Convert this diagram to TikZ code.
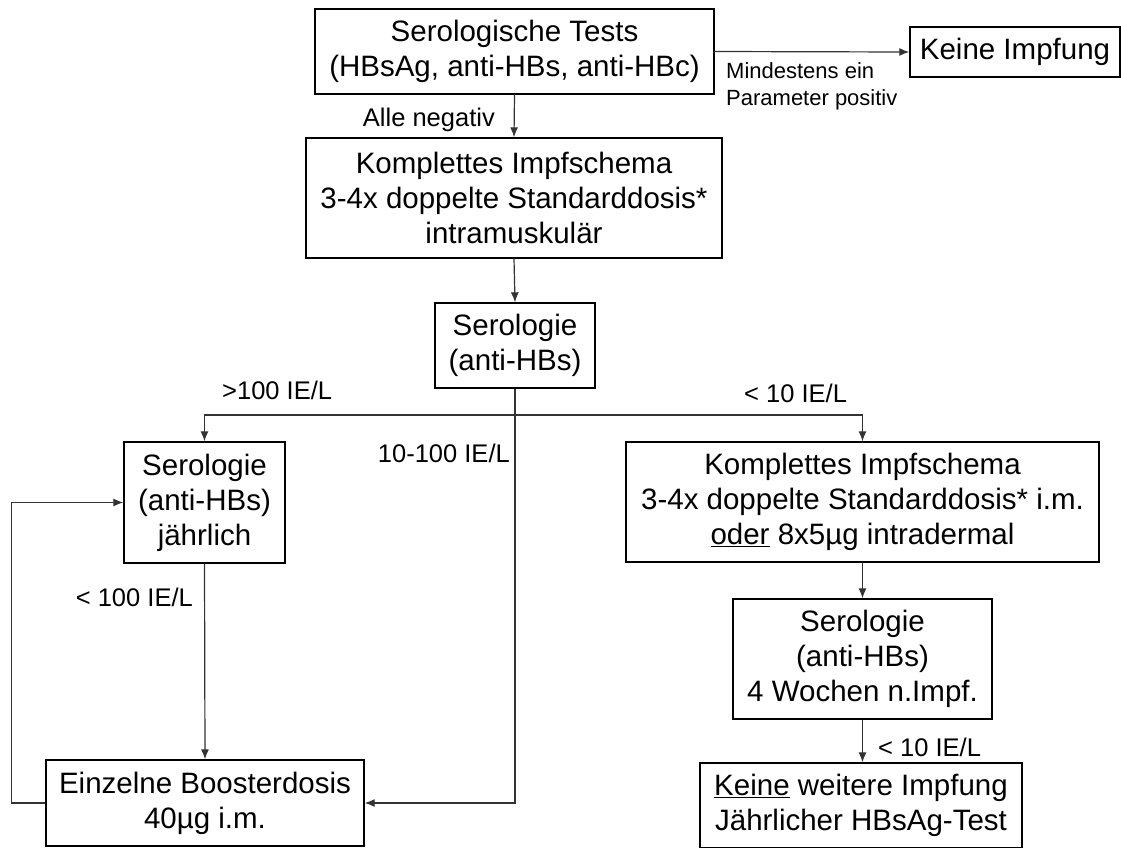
\documentclass[tikz,border=0pt]{standalone}
\usepackage{fontspec}
\setmainfont{Liberation Sans}
\usetikzlibrary{arrows.meta, calc}

\begin{document}
\begin{tikzpicture}[x=1pt, y=-1pt,
  box/.style={draw, line width=1.4pt, inner sep=0pt, align=center,
    font=\fontsize{29.5}{35}\selectfont},
  lbl/.style={inner sep=0pt, font=\fontsize{25.5}{29}\selectfont},
  conn/.style={draw=black!80, line width=1.2pt, ->, >={Latex[length=10pt,width=8pt]}},
]
  \useasboundingbox (0,0) rectangle (1121,847);
  \clip (0,0) rectangle (1121,847);
% boxes
  \node[box, minimum width=399pt, minimum height=85pt] (tests) at (514.5,51.5)
    {Serologische Tests\\(HBsAg, anti-HBs, anti-HBc)};
  \node[box, minimum width=210pt, minimum height=50pt] (keine) at (1015,52) {Keine Impfung};
  \node[box, minimum width=416pt, minimum height=120pt] (komplett1) at (514,198)
    {Komplettes Impfschema\\3-4x doppelte Standarddosis*\\intramuskulär};
  \node[box, minimum width=160pt, minimum height=85pt] (sero) at (515,345.5)
    {Serologie\\(anti-HBs)};
  \node[box, minimum width=161pt, minimum height=121pt] (serojahr) at (204.5,502.5)
    {Serologie\\(anti-HBs)\\jährlich};
  \node[box, minimum width=473pt, minimum height=120pt] (komplett2) at (862.5,502)
    {Komplettes Impfschema\\3-4x doppelte Standarddosis* i.m.\\\underline{oder} 8x5µg intradermal};
  \node[box, minimum width=318pt, minimum height=86pt] (booster) at (205,803)
    {Einzelne Boosterdosis\\40µg i.m.};
  \node[box, minimum width=259pt, minimum height=120pt] (sero2) at (862.5,659)
    {Serologie\\(anti-HBs)\\4 Wochen n.Impf.};
  \node[box, minimum width=322pt, minimum height=85pt] (keinew) at (861,805.5)
    {\underline{Keine} weitere Impfung\\Jährlicher HBsAg-Test};
% labels
  \node[lbl, anchor=base east] (lneg) at (495,126) {Alle negativ};
  \node[lbl, anchor=north west, align=left, font=\fontsize{22}{27}\selectfont] (lpos) at (726,62)
    {Mindestens ein\\Parameter positiv};
  \node[lbl, anchor=base west] (lhigh) at (222,399) {>100 IE/L};
  \node[lbl, anchor=base east] (lmid) at (510,462) {10-100 IE/L};
  \node[lbl, anchor=base west] (llow) at (744,402) {< 10 IE/L};
  \node[lbl, anchor=base east] (lboost) at (193,606) {< 100 IE/L};
  \node[lbl, anchor=base west] (llow2) at (878,756) {< 10 IE/L};
% connectors
  \draw[conn] (tests.south) -- (komplett1.north);
  \draw[conn] (tests.east) -- (keine.west);
  \draw[conn] (komplett1.south) -- (sero.north);
  \coordinate (br) at (sero.south |- 0,415);
  \draw[conn] (sero.south) -- (br) -| (serojahr.north);
  \draw[conn] (br) -| (komplett2.north);
  \draw[conn] (sero.south) |- (booster.east);
  \draw[conn] (serojahr.south) -- (booster.north);
  \draw[conn] (booster.west) -- ++(-34,0) |- (serojahr.west);
  \draw[conn] (komplett2.south) -- (sero2.north);
  \draw[conn] (sero2.south) -- (sero2.south |- keinew.north);
\end{tikzpicture}
\end{document}
